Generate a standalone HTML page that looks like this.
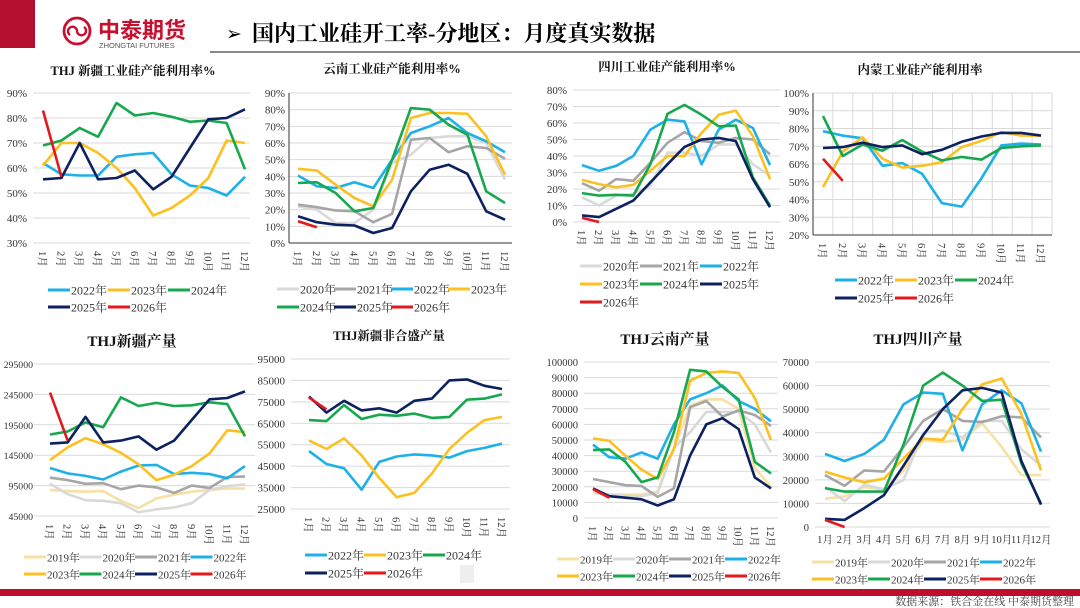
<!DOCTYPE html>
<html><head><meta charset="utf-8">
<style>
body{margin:0;width:1080px;height:608px;overflow:hidden;background:#fff;font-family:"Liberation Serif","Noto Serif CJK SC",serif;}
#root{position:relative;width:1080px;height:608px;}
svg{position:absolute;left:0;top:0;}
</style></head><body>
<div id="root">
<svg id="svg" width="1080" height="608" viewBox="0 0 1080 608">
  <rect x="0" y="0" width="35" height="48" fill="#b5102f"/>
  <g>
    <circle cx="77" cy="31" r="13" fill="none" stroke="#c8102e" stroke-width="2.8"/>
    <path d="M70 35 a4.5 4.5 0 1 1 7 -4 a4.5 4.5 0 1 0 7 -4" fill="none" stroke="#c8102e" stroke-width="2.4"/>
    <text x="98" y="38" font-family="'Liberation Sans','Noto Sans CJK SC',sans-serif" font-weight="bold" font-size="22" fill="#c8102e">中泰期货</text>
    <text x="99" y="48" font-family="'Liberation Sans',sans-serif" font-size="7.5" fill="#555">ZHONGTAI FUTURES</text>
  </g>
  <text x="226" y="40" font-size="19" fill="#000">➢</text>
  <text x="252" y="41" font-family="'Liberation Serif','Noto Serif CJK SC',serif" font-weight="bold" font-size="22" fill="#000">国内工业硅开工率-分地区：月度真实数据</text>
  <rect x="210" y="51" width="870" height="2" fill="#888"/>
  <rect x="0" y="589" width="1080" height="7" fill="#c00d2e"/>
  <text x="1074" y="605" text-anchor="end" font-size="11" fill="#444">数据来源：铁合金在线  中泰期货整理</text>
  <rect x="460" y="565" width="14" height="18" fill="#eee"/>
</svg>
</div>
<script>
const months=["1月","2月","3月","4月","5月","6月","7月","8月","9月","10月","11月","12月"];
const yearColors={"2019":"#f7e0a3","2020":"#d9d9d9","2021":"#a6a6a6","2022":"#1eb0e8","2023":"#fcc020","2024":"#17a84e","2025":"#0d2160","2026":"#e3191e"};

// Chart 1: Xinjiang utilization
const c1Years=["2022","2023","2024","2025","2026"];
const c1_2022=[62,57.5,57,57,64.5,65.5,66,57.5,53,52,49,56.5];
const c1_2023=[61,70,70,66,60,52,41,44,49,56,71,70];
const c1_2024=[69,71,76,72.5,86,81,82,80.5,78.5,79,78,59.5];
const c1_2025=[55.5,56,70,55.5,56,59,51.5,56.5,68,79.5,80,83.5];
const c1_2026=[83,56.5];
const c1Ticks=[30,40,50,60,70,80,90];
// Chart 2: Yunnan utilization
const c2Years=["2020","2021","2022","2023","2024","2025","2026"];
const c2_2020=[22,20,12,12,20,48,53,63,64,64,60,38];
const c2_2021=[23,21.5,19.5,19,12.5,17.5,62,63,54.5,58,57,50.5];
const c2_2022=[40.5,34,33,36.5,33,50,66,70,75,66,61,54.5];
const c2_2023=[44.5,43.5,35,27,22,38,75,78,78,77.5,64,41];
const c2_2024=[36,36.5,30,19,21,50,81,80,71,65,31,24];
const c2_2025=[16,12.5,11,10.5,6,9,31,44,47,41.5,19,14];
const c2_2026=[13,9.5];
const c2Ticks=[0,10,20,30,40,50,60,70,80,90];
// Chart 3: Sichuan utilization
const c3Years=["2020","2021","2022","2023","2024","2025","2026"];
const c3_2020=[15,10,16,17,22,42,42,40,47,47,35,28];
const c3_2021=[23.5,19,26,25,36,48,54.5,49,48,51,50,41];
const c3_2022=[34.5,31,34,40,56,62,61,35,56,62,57,34.5];
const c3_2023=[25.5,23,21,22.5,31,40,40,54,65,67.5,52,26];
const c3_2024=[17.5,16,16.5,16,35,65.5,71,65,58,58.5,27,10];
const c3_2025=[4,3,8,13,24,35,45.5,50,51,49,26,9];
const c3_2026=[2.5,0];
const c3Ticks=[0,10,20,30,40,50,60,70,80];
// Chart 4: Inner Mongolia utilization
const c4Years=["2022","2023","2024","2025","2026"];
const c4_2022=[78.5,76,74.5,59,60.5,54.5,38,36,52,70.5,71.5,71];
const c4_2023=[47,67,75,63,58,59,61,69.5,73,78,76,76];
const c4_2024=[87,64.5,71,67.5,73.5,67,62,64,62.5,69,70,70.5];
const c4_2025=[69,69.5,72,69.5,70.5,65.5,68,72.5,75.5,77.5,77.5,76];
const c4_2026=[63,50.5];
const c4Ticks=[20,30,40,50,60,70,80,90,100];
// Chart 5: Xinjiang output
const c5Years=["2019","2020","2021","2022","2023","2024","2025","2026"];
const c5_2019=[88000,86000,85000,86000,70000,58000,74000,80000,85000,88000,90000,90000];
const c5_2020=[98000,81000,71000,70000,66000,51000,56000,59000,66000,88000,94000,97000];
const c5_2021=[108000,104000,98000,99000,89000,95000,92000,83000,95000,91000,109000,110000];
const c5_2022=[124000,115000,111000,105000,118000,128000,129000,114000,116000,114000,107000,127000];
const c5_2023=[137000,158000,173000,163000,149000,130000,104000,113000,127000,148000,186000,183000];
const c5_2024=[179000,184000,199000,191000,240000,226000,231000,226000,227000,232000,229000,176000];
const c5_2025=[164000,166000,208000,166000,169000,176000,154000,169000,203000,237000,239000,250000];
const c5_2026=[248000,169000];
const c5Ticks=[45000,95000,145000,195000,245000,295000];
// Chart 6: Xinjiang non-Hesheng output
const c6Years=["2022","2023","2024","2025","2026"];
const c6_2022=[52000,46000,44000,34000,47000,49500,50500,50000,49000,52000,53500,55500];
const c6_2023=[57000,53000,58000,50000,39500,30500,32500,41500,53000,60500,66500,68000];
const c6_2024=[66500,66000,73500,67000,69000,68500,69500,67500,68000,76000,76500,78500];
const c6_2025=[77500,70000,75500,71000,72000,70000,75500,76500,85000,85500,82500,81000];
const c6_2026=[77000,71500];
const c6Ticks=[25000,35000,45000,55000,65000,75000,85000,95000];
// Chart 7: Yunnan output
const c7Years=["2019","2020","2021","2022","2023","2024","2025","2026"];
const c7_2019=[17000,15000,15000,15000,17000,45000,72000,76000,76000,70000,32000,20000];
const c7_2020=[16000,15000,14000,14000,16000,45000,55000,68000,68000,68000,60000,42000];
const c7_2021=[25000,23000,21000,20500,13500,19000,71000,75000,65000,69000,66000,59000];
const c7_2022=[47000,39000,38000,42000,38000,60000,76000,80000,85000,75000,70000,62000];
const c7_2023=[51000,49500,40000,31000,25000,44000,88000,93000,94000,93000,77000,50000];
const c7_2024=[43500,44000,36000,23000,26000,55000,95000,94000,84000,76000,36000,28500];
const c7_2025=[19000,14000,13000,12000,8000,12000,40000,60000,64000,57000,26000,19000];
const c7_2026=[18500,13000];
const c7Ticks=[0,10000,20000,30000,40000,50000,60000,70000,80000,90000,100000];
// Chart 8: Sichuan output
const c8Years=["2019","2020","2021","2022","2023","2024","2025","2026"];
const c8_2019=[12000,13000,17000,16000,24000,37000,36000,37000,44000,34000,22000,22000];
const c8_2020=[17000,11000,18000,16000,20000,40000,41000,38000,45000,45000,33000,26000];
const c8_2021=[22000,17500,24000,23500,34000,45000,50000,45000,44500,47000,46500,38000];
const c8_2022=[31000,28000,31000,37000,52000,57000,56500,32500,52000,58000,52500,32000];
const c8_2023=[23500,21000,19000,20500,29000,37500,37000,50000,60500,63000,48000,24000];
const c8_2024=[16500,15000,15000,15000,35000,60000,65500,60000,53500,54000,27000,10000];
const c8_2025=[3500,3000,8000,13500,26000,39000,50000,58000,59000,57000,28000,9500];
const c8_2026=[3000,0];
const c8Ticks=[0,10000,20000,30000,40000,50000,60000,70000];

const NS="http://www.w3.org/2000/svg";
const svg=document.getElementById('svg');
function mk(tag,attrs,parent){const e=document.createElementNS(NS,tag);for(const k in attrs)e.setAttribute(k,attrs[k]);(parent||svg).appendChild(e);return e;}

function drawChart(cfg,years,series,ticks){
  const g=mk('g',{});
  
  
  const yScale=v=>cfg.yBot-(v-ticks[0])/(ticks[ticks.length-1]-ticks[0])*(cfg.yBot-cfg.yTop);
  const xScale=i=>cfg.x0+i*(cfg.x1-cfg.x0)/11;
  const t=mk('text',{x:cfg.tx,y:cfg.ty,'text-anchor':'middle','font-size':cfg.tfs,'font-weight':'bold',fill:'#111'},g);
  t.textContent=cfg.title;
  
  
  ticks.forEach(v=>{
    const y=yScale(v);
    const gl=mk('line',{x1:cfg.gx0,x2:cfg.gx1,y1:y,y2:y,stroke:'#d9d9d9','stroke-width':1},g);
    
    
    const off=cfg.tickOff!==undefined?cfg.tickOff:(cfg.axis?4:6);
    const tl=mk('text',{x:cfg.gx0-off,y:y+4,'text-anchor':'end','font-size':cfg.tickfs||11,fill:'#333'},g);
    tl.textContent=cfg.pct?v+'%':String(v);
    
    
  });
  if(cfg.vgrid){
    for(let i=0;i<=12;i++){const x=cfg.gx0+i*(cfg.gx1-cfg.gx0)/12;
      const vl=mk('line',{x1:x,x2:x,y1:cfg.yTop,y2:cfg.yBot,stroke:'#d9d9d9','stroke-width':1},g);
      
      }
  }
  if(cfg.axis){
    const ax=mk('line',{x1:cfg.gx0,x2:cfg.gx0,y1:cfg.yTop,y2:cfg.yBot,stroke:'#333','stroke-width':1},g);
    
    
    const bx=mk('line',{x1:cfg.gx0,x2:cfg.gx1,y1:cfg.yBot,y2:cfg.yBot,stroke:'#333','stroke-width':1},g);
    
    
  }
  months.forEach((m,i)=>{
    const x=xScale(i);
    let tl;
    if(cfg.hx){tl=mk('text',{x:x,y:cfg.yBot+16,'text-anchor':'middle','font-size':10.5,fill:'#333'},g);}
    else{tl=mk('text',{x:0,y:0,transform:`translate(${x-4},${cfg.yBot+8}) rotate(90)`,'font-size':10.5,fill:'#333'},g);}
    tl.textContent=m;
    
    
  });
  years.forEach((yr,k)=>{
    const vals=series[k];
    const pts=vals.map((v,i)=>xScale(i).toFixed(1)+','+yScale(v).toFixed(1)).join(' ');
    const pl=mk('polyline',{points:pts,fill:'none',stroke:yearColors[yr],'stroke-width':2.6,'stroke-linejoin':'round'},g);
    
    
  });
  years.forEach((yr,k)=>{
    const r=Math.floor(k/cfg.perRow),c=k%cfg.perRow;
    const lx=cfg.lx+c*cfg.lsp,ly=cfg.ly+r*cfg.lrow;
    const lg=mk('g',{},g);
    
    
    mk('line',{x1:lx,x2:lx+cfg.lw,y1:ly,y2:ly,stroke:yearColors[yr],'stroke-width':3},lg);
    const lt=mk('text',{x:lx+cfg.lw+1,y:ly+4.5,'font-size':cfg.lfs,fill:'#333'},lg);
    lt.textContent=yr+'年';
  });
}

drawChart({name:'chart-xinjiang-utilization',title:'THJ 新疆工业硅产能利用率%',tx:133,ty:75,tfs:12.5,pct:true,
  yTop:93,yBot:243,gx0:33,gx1:250,x0:43,x1:245,axis:false,lx:48,ly:290,lsp:60,lrow:17,perRow:3,lw:22,lfs:12},
  c1Years,[c1_2022,c1_2023,c1_2024,c1_2025,c1_2026],c1Ticks);
drawChart({name:'chart-yunnan-utilization',title:'云南工业硅产能利用率%',tx:392,ty:73,tfs:12.5,pct:true,
  yTop:93,yBot:243,gx0:289,gx1:512,x0:298,x1:505,axis:true,lx:277,ly:289,lsp:57,lrow:18,perRow:4,lw:22,lfs:12},
  c2Years,[c2_2020,c2_2021,c2_2022,c2_2023,c2_2024,c2_2025,c2_2026],c2Ticks);
drawChart({name:'chart-sichuan-utilization',title:'四川工业硅产能利用率%',tx:667,ty:71,tfs:12.5,pct:true,
  yTop:90,yBot:222,gx0:573,gx1:780,x0:582,x1:770,axis:false,lx:580,ly:266,lsp:60,lrow:18,perRow:3,lw:22,lfs:12},
  c3Years,[c3_2020,c3_2021,c3_2022,c3_2023,c3_2024,c3_2025,c3_2026],c3Ticks);
drawChart({name:'chart-innermongolia-utilization',title:'内蒙工业硅产能利用率',tx:920,ty:74,tfs:12.5,pct:true,
  yTop:93,yBot:235,gx0:813,gx1:1052,x0:823,x1:1041,axis:true,vgrid:true,lx:835,ly:280,lsp:60,lrow:18,perRow:3,lw:22,lfs:12},
  c4Years,[c4_2022,c4_2023,c4_2024,c4_2025,c4_2026],c4Ticks);
drawChart({name:'chart-xinjiang-output',title:'THJ新疆产量',tx:132,ty:346,tfs:15,
  yTop:364,yBot:516,gx0:34,gx1:255,x0:50,x1:245,axis:false,tickOff:1,lx:24,ly:557,lsp:55.5,lrow:17,perRow:4,lw:22,lfs:11,tickfs:9.8},
  c5Years,[c5_2019,c5_2020,c5_2021,c5_2022,c5_2023,c5_2024,c5_2025,c5_2026],c5Ticks);
drawChart({name:'chart-xinjiang-non-hesheng-output',title:'THJ新疆非合盛产量',tx:389,ty:340,tfs:12.5,
  yTop:359,yBot:509,gx0:291,gx1:510,x0:309,x1:502,axis:false,lx:305,ly:555,lsp:59,lrow:18,perRow:3,lw:22,lfs:12,tickfs:11},
  c6Years,[c6_2022,c6_2023,c6_2024,c6_2025,c6_2026],c6Ticks);
drawChart({name:'chart-yunnan-output',title:'THJ云南产量',tx:665,ty:344,tfs:15,
  yTop:362,yBot:518,gx0:584,gx1:778,x0:593,x1:771,axis:false,lx:557,ly:559,lsp:56,lrow:17,perRow:4,lw:22,lfs:11,tickfs:10.5},
  c7Years,[c7_2019,c7_2020,c7_2021,c7_2022,c7_2023,c7_2024,c7_2025,c7_2026],c7Ticks);
drawChart({name:'chart-sichuan-output',title:'THJ四川产量',tx:918,ty:344,tfs:15,
  yTop:362,yBot:527,gx0:815,gx1:1050,x0:825,x1:1041,axis:false,hx:true,lx:812,ly:562,lsp:56,lrow:17,perRow:4,lw:22,lfs:11,tickfs:10.5},
  c8Years,[c8_2019,c8_2020,c8_2021,c8_2022,c8_2023,c8_2024,c8_2025,c8_2026],c8Ticks);
</script>
</body></html>
